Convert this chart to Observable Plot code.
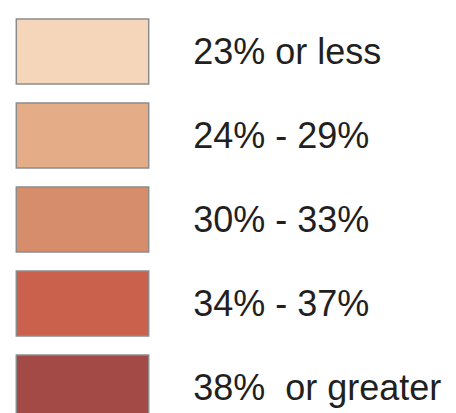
<!DOCTYPE html>
<html>
<head>
<meta charset="utf-8">
<script src="https://cdn.jsdelivr.net/npm/d3@7"></script>
<script src="https://cdn.jsdelivr.net/npm/@observablehq/plot@0.6"></script>
<style>
  html, body { margin: 0; padding: 0; background: #fff; overflow: hidden; }
  #chart svg { display: block; }
</style>
</head>
<body>
<div id="chart"></div>
<script>
const labels = ["23% or less", "24% - 29%", "30% - 33%", "34% - 37%", "38%  or greater"];
const colors = ["#F5D6BA", "#E5AC88", "#D68D6B", "#C9614C", "#A44A46"];

const data = labels.map((label, i) => ({label, color: colors[i]}));

const chart = Plot.plot({
  width: 456,
  height: 413,
  margin: 0,
  style: {background: "#fff", fontFamily: "'Liberation Sans', Arial, Helvetica, sans-serif", overflow: "hidden"},
  x: {type: "linear", domain: [0, 1], range: [16.3, 148.7], axis: null},
  y: {type: "band", domain: labels, range: [19.3, 420.8], paddingInner: 0.232, paddingOuter: 0, align: 0, axis: null},
  color: {type: "identity"},
  marks: [
    Plot.rect(data, {
      x1: () => 0, x2: () => 1, y: "label",
      fill: "color", stroke: "#8C8C8C", strokeWidth: 1.5
    }),
    Plot.text(data, {
      x: () => 1, y: "label", text: "label",
      dx: 44, textAnchor: "start", fontSize: 36, fill: "#231F20",
      lineAnchor: "middle"
    })
  ]
});
document.getElementById("chart").appendChild(chart);
</script>
</body>
</html>
